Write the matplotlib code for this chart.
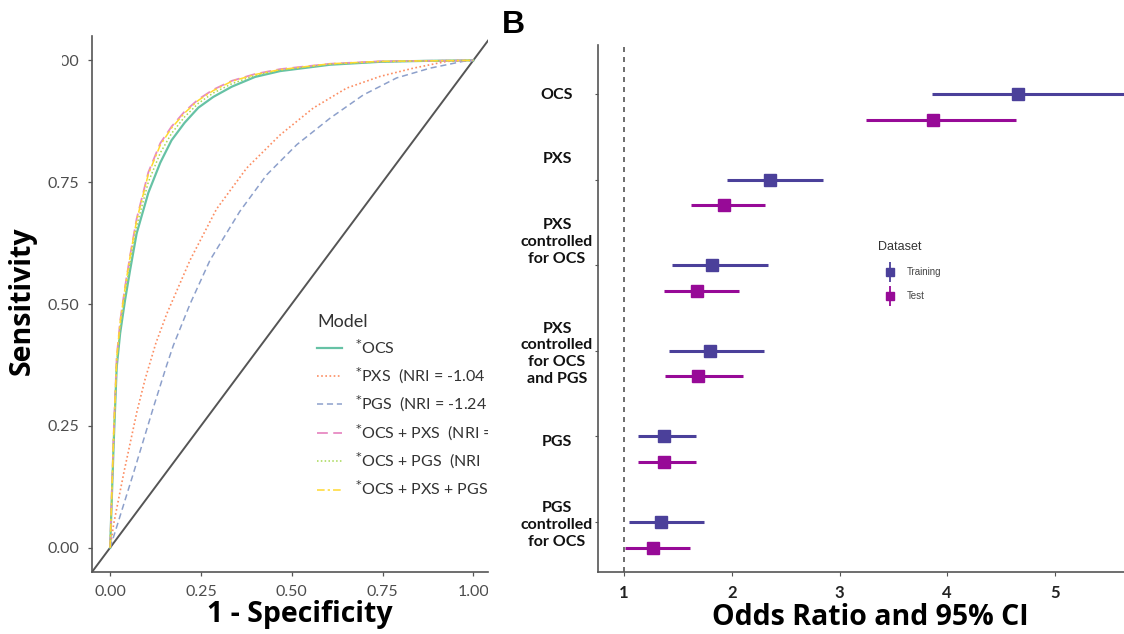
import numpy as np
import matplotlib
matplotlib.use("Agg")
import matplotlib.pyplot as plt
from matplotlib.lines import Line2D
from matplotlib.transforms import Bbox, TransformedBbox, ScaledTranslation

plt.rcParams['font.family'] = ['Lato', 'DejaVu Sans']

W, H = 1124, 634

# --- panel A: ROC curves ---
model_names = ["OCS", "PXS", "PGS", "OCS + PXS", "OCS + PGS", "OCS + PXS + PGS"]
legend_labels = [r"$^{*}$OCS",
                 r"$^{*}$PXS  (NRI = -1.04",
                 r"$^{*}$PGS  (NRI = -1.24",
                 r"$^{*}$OCS + PXS  (NRI =",
                 r"$^{*}$OCS + PGS  (NRI",
                 r"$^{*}$OCS + PXS + PGS"]

ocs_fpr = [0, 0.004, 0.010, 0.018, 0.0275, 0.041, 0.055, 0.073, 0.105, 0.138, 0.169, 0.205, 0.243,
           0.284, 0.335, 0.399, 0.468, 0.605, 0.743, 0.87, 1.0]
ocs_sens = [0, 0.09, 0.22, 0.37, 0.44, 0.508, 0.57, 0.645, 0.728, 0.79, 0.836, 0.872, 0.903,
            0.925, 0.946, 0.966, 0.978, 0.991, 0.997, 0.999, 1.0]
ocs_pxs_sens = [0, 0.10, 0.24, 0.39, 0.465, 0.535, 0.60, 0.675, 0.77, 0.83, 0.864, 0.895, 0.92,
                0.94, 0.958, 0.972, 0.982, 0.993, 0.998, 0.999, 1.0]
ocs_pgs_sens = [0, 0.095, 0.23, 0.38, 0.45, 0.52, 0.585, 0.66, 0.75, 0.81, 0.85, 0.884, 0.912,
                0.933, 0.952, 0.969, 0.98, 0.992, 0.997, 0.999, 1.0]
ocs_pxs_pgs_sens = [0, 0.10, 0.24, 0.39, 0.463, 0.533, 0.598, 0.672, 0.766, 0.826, 0.861, 0.892, 0.918,
                    0.938, 0.957, 0.971, 0.981, 0.993, 0.998, 0.999, 1.0]

pxs_fpr = [0, 0.010, 0.038, 0.074, 0.096, 0.126, 0.156, 0.22, 0.293, 0.376, 0.468, 0.559, 0.651,
           0.743, 0.835, 0.927, 1.0]
pxs_sens = [0, 0.05, 0.155, 0.28, 0.345, 0.42, 0.48, 0.59, 0.695, 0.779, 0.847, 0.902, 0.943,
            0.967, 0.984, 0.998, 1.0]

pgs_fpr = [0, 0.019, 0.063, 0.12, 0.156, 0.174, 0.22, 0.275, 0.357, 0.431, 0.514, 0.605, 0.697,
           0.789, 0.881, 0.972, 1.0]
pgs_sens = [0, 0.045, 0.15, 0.29, 0.375, 0.415, 0.50, 0.59, 0.69, 0.765, 0.827, 0.881, 0.929,
            0.964, 0.984, 0.998, 1.0]

# --- panel B: odds ratios ---
categories = ["OCS", "PXS", "PXS\ncontrolled\nfor OCS", "PXS\ncontrolled\nfor OCS\nand PGS",
              "PGS", "PGS\ncontrolled\nfor OCS"]
or_train = [4.66, 2.355, 1.82, 1.80, 1.37, 1.34]
lo_train = [3.86, 1.96, 1.445, 1.42, 1.13, 1.05]
hi_train = [5.90, 2.85, 2.34, 2.30, 1.67, 1.74]
or_test = [3.87, 1.93, 1.68, 1.69, 1.37, 1.27]
lo_test = [3.25, 1.62, 1.37, 1.38, 1.13, 1.01]
hi_test = [4.64, 2.31, 2.07, 2.10, 1.67, 1.61]

fig = plt.figure(figsize=(W / 100, H / 100), dpi=100)


def px_rect(x0, y0, x1, y1):
    return [x0 / W, 1 - y1 / H, (x1 - x0) / W, (y1 - y0) / H]


def px_clip(x0, y0, x1, y1):
    return TransformedBbox(Bbox.from_extents(x0 / W, 1 - y1 / H, x1 / W, 1 - y0 / H), fig.transFigure)


title_font = {"family": ["Open Sans", "DejaVu Sans"], "weight": "bold", "size": 20.5}

# ---------------- panel A ----------------
ax = fig.add_axes(px_rect(92, 36, 488, 572))
ax.set_xlim(-0.05, 1.0405)
ax.set_ylim(-0.05, 1.05)

set2 = ["#66c2a5", "#fc8d62", "#8da0cb", "#e78ac3", "#a6d854", "#ffd92f"]
styles = ["-", (0, (1, 1.5)), (0, (4, 2.5)), (0, (6, 3)), (0, (1, 1.5)), (0, (5, 2, 1.5, 2))]
curves = [(ocs_fpr, ocs_sens), (pxs_fpr, pxs_sens), (pgs_fpr, pgs_sens),
          (ocs_fpr, ocs_pxs_sens), (ocs_fpr, ocs_pgs_sens), (ocs_fpr, ocs_pxs_pgs_sens)]
widths = [1.6, 1.2, 1.1, 1.3, 1.1, 1.1]
for (fx, sy), c, ls, lw, lab in zip(curves, set2, styles, widths, legend_labels):
    ax.plot(fx, sy, color=c, ls=ls, lw=lw, label=lab)

ax.axline((0, 0), slope=1, color="#555555", lw=1.4, zorder=1)

for s in ["top", "right"]:
    ax.spines[s].set_visible(False)
for s in ["left", "bottom"]:
    ax.spines[s].set_color("#555555")
    ax.spines[s].set_linewidth(1.2)

ticks = [0, 0.25, 0.5, 0.75, 1.0]
ax.set_xticks(ticks)
ax.set_yticks(ticks)
ax.set_xticklabels(["%.2f" % t for t in ticks])
ax.set_yticklabels(["%.2f" % t for t in ticks])
ax.tick_params(color="#555555", labelcolor="#4d4d4d", labelsize=11.5, length=3, width=0.9)
ax.tick_params(axis="x", pad=6)
ax.tick_params(axis="y", pad=6)

ax.set_xlabel("1 - Specificity", fontdict=title_font, va="center")
ax.xaxis.set_label_coords(0.525, -0.08)
ax.set_ylabel("Sensitivity", fontdict=title_font, va="center")
ax.yaxis.set_label_coords(-0.177, 0.507)

leg = ax.legend(loc="upper left", bbox_to_anchor=(309 / W, 1 - 306 / H), bbox_transform=fig.transFigure,
                frameon=False, title="Model", alignment="left", fontsize=11.5, title_fontsize=13,
                handlelength=1.55, handletextpad=0.8, borderpad=0, labelspacing=0.52)
leg.get_title().set_color("#333333")

# the figure is cut on the right side of panel A
cut_a = px_clip(0, 0, 488, H)
for t in leg.get_texts():
    t.set_color("#333333")
    t.set_clip_box(cut_a)
    t.set_clip_on(True)
for tk in ax.xaxis.get_major_ticks():
    tk.label1.set_clip_box(cut_a)
    tk.label1.set_clip_on(True)
top_tick = ax.yaxis.get_major_ticks()[-1]
top_tick.label1.set_clip_box(px_clip(62, 0, W, H))
top_tick.label1.set_clip_on(True)

# ---------------- panel B ----------------
ax2 = fig.add_axes(px_rect(598, 45, 1124, 572))
ax2.set_xlim(0.759, 5.64)
ax2.set_ylim(0.416, 6.572)

c_train = "#4b409a"
c_test = "#970a97"
ypos = np.arange(len(categories), 0, -1)
dodge = 0.3

ax2.axvline(1, color="#555555", ls=(0, (3, 3)), lw=1.2, zorder=1)

x = np.array(or_train)
ax2.errorbar(x, ypos, xerr=[x - np.array(lo_train), np.array(hi_train) - x], fmt="s", color=c_train,
             ms=9, elinewidth=2.2, capsize=0, zorder=3)
x = np.array(or_test)
ax2.errorbar(x, ypos - dodge, xerr=[x - np.array(lo_test), np.array(hi_test) - x], fmt="s", color=c_test,
             ms=9, elinewidth=2.2, capsize=0, zorder=3)

for s in ["top", "right"]:
    ax2.spines[s].set_visible(False)
for s in ["left", "bottom"]:
    ax2.spines[s].set_color("#555555")
    ax2.spines[s].set_linewidth(1.2)

ax2.set_xticks([1, 2, 3, 4, 5])
ax2.set_xticklabels(["1", "2", "3", "4", "5"], fontweight="bold")
ax2.set_yticks(ypos)
ax2.set_yticklabels(categories, fontweight="bold", fontsize=11.5, linespacing=1.25)
ax2.tick_params(axis="x", color="#555555", labelcolor="#222222", labelsize=12, length=3, pad=6)
ax2.tick_params(axis="y", color="#555555", labelcolor="#111111", length=2.5, pad=27)

label_shift = [0, 22, 26, 0, -4, 0]
for lab, dy in zip(ax2.get_yticklabels(), label_shift):
    lab.set_ha("center")
    lab.set_multialignment("center")
    lab.set_transform(lab.get_transform() + ScaledTranslation(0, dy / 100, fig.dpi_scale_trans))

ax2.set_xlabel("Odds Ratio and 95% CI", fontdict=title_font, va="center")
ax2.xaxis.set_label_coords(0.517, -0.087)

handles = [(Line2D([], [], ls="none", marker="|", ms=14, mew=1.3, color=c),
            Line2D([], [], ls="none", marker="s", ms=5.5, color=c)) for c in (c_train, c_test)]
leg2 = ax2.legend(handles, ["Training", "Test"], loc="upper left",
                  bbox_to_anchor=(873 / W, 1 - 236 / H), bbox_transform=fig.transFigure,
                  frameon=False, title="Dataset", alignment="left",
                  prop={"family": "Liberation Sans", "size": 7},
                  title_fontproperties={"family": "Liberation Sans", "size": 9},
                  handlelength=2.4, handletextpad=0.6, borderpad=0, labelspacing=1.45)
leg2.get_title().set_color("#333333")
for t in leg2.get_texts():
    t.set_color("#444444")

fig.text(502 / W, 1 - 33 / H, "B", fontsize=23, fontweight="bold", family="Liberation Sans",
         va="baseline", ha="left")

fig.savefig("out.png", dpi=100)
